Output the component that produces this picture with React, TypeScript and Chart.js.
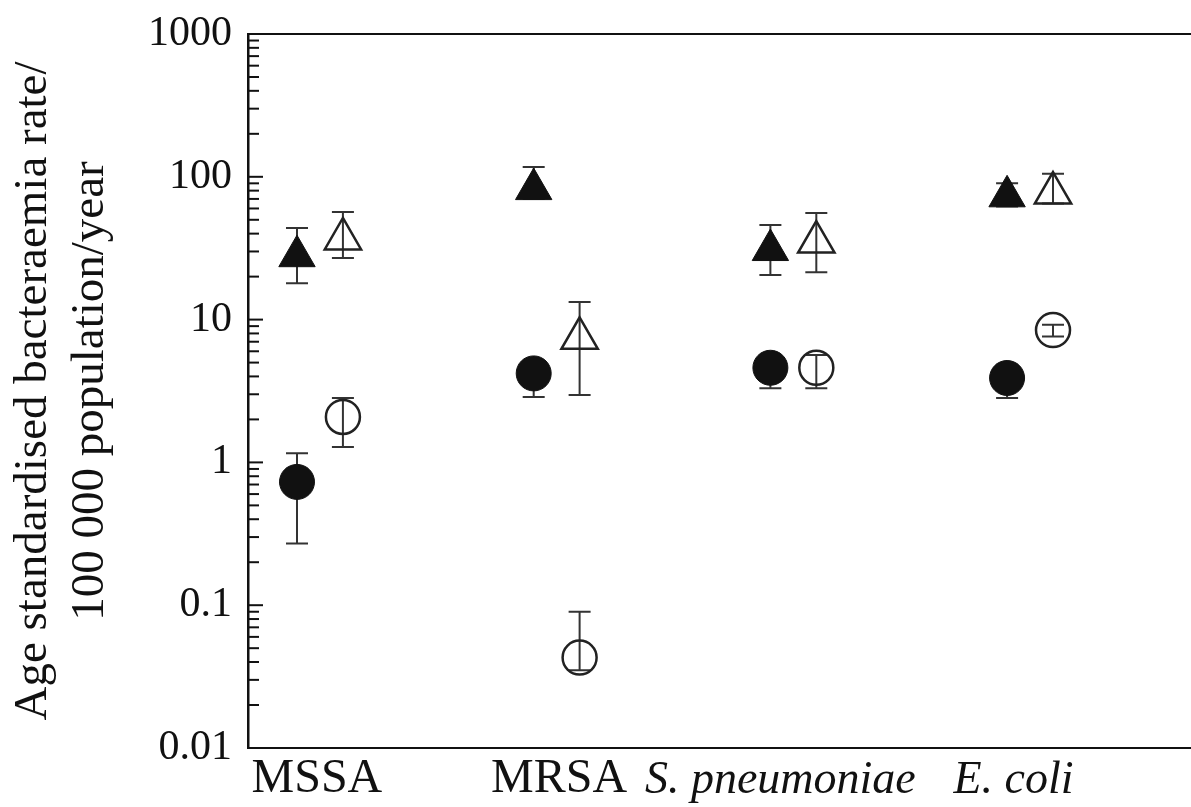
import React, { useEffect, useRef } from "react";
import { Chart, registerables } from "chart.js";

Chart.register(...registerables);

// ---- data ----
const categories = ["MSSA", "MRSA", "S. pneumoniae", "E. coli"];
const italicCategory = [false, false, true, true];

const filledTriangle = [27.8, 82, 30.7, 73];
const filledTriangleLo = [18.0, 70, 20.5, 62];
const filledTriangleHi = [43.8, 117, 45.9, 90];

const openTriangle = [36.7, 7.4, 34.9, 77];
const openTriangleLo = [27.0, 2.97, 21.5, 65];
const openTriangleHi = [56.7, 13.3, 55.8, 105];

const filledCircle = [0.73, 4.2, 4.6, 3.9];
const filledCircleLo = [0.27, 2.87, 3.3, 2.83];
const filledCircleHi = [1.16, 5.0, 5.5, 4.6];

const openCircle = [2.08, 0.043, 4.6, 8.45];
const openCircleLo = [1.28, 0.035, 3.3, 7.6];
const openCircleHi = [2.83, 0.09, 5.65, 9.2];

const yDecades = [0.01, 0.1, 1, 10, 100, 1000];
const yTickLabels = ["0.01", "0.1", "1", "10", "100", "1000"];
const yTitle = ["Age standardised bacteraemia rate/", "100 000 population/year"];

// ---- layout constants ----
const GROUP_OFFSET = 0.097;
const LABEL_SHIFT = [-0.013, 0.01, -0.055, -0.07];
const FONT = "'Liberation Serif', 'DejaVu Serif', serif";
const INK = "#111";

const mk = (vals: number[], lo: number[], hi: number[], side: number) =>
  vals.map((v, i) => ({ x: i + side * GROUP_OFFSET, y: v, lo: lo[i], hi: hi[i] }));

const errorBarsPlugin = {
  id: "errorBars",
  beforeDatasetsDraw(chart: any) {
    const { ctx, scales } = chart;
    const xs = scales.x;
    const ys = scales.y;
    ctx.save();
    ctx.strokeStyle = "#333";
    ctx.lineWidth = 2;
    chart.data.datasets.forEach((ds: any) => {
      ds.data.forEach((p: any) => {
        const x = xs.getPixelForValue(p.x);
        const yl = ys.getPixelForValue(p.lo);
        const yh = ys.getPixelForValue(p.hi);
        const cap = 11;
        ctx.beginPath();
        ctx.moveTo(x, yl);
        ctx.lineTo(x, yh);
        ctx.moveTo(x - cap, yl);
        ctx.lineTo(x + cap, yl);
        ctx.moveTo(x - cap, yh);
        ctx.lineTo(x + cap, yh);
        ctx.stroke();
      });
    });
    ctx.restore();
  },
};

const frameAndTicksPlugin = {
  id: "frameTicks",
  afterDraw(chart: any) {
    const { ctx, chartArea, scales } = chart;
    const ys = scales.y;
    ctx.save();
    ctx.strokeStyle = INK;
    // top border
    ctx.lineWidth = 2;
    ctx.beginPath();
    ctx.moveTo(chartArea.left, chartArea.top);
    ctx.lineTo(chartArea.right, chartArea.top);
    ctx.stroke();
    // inward ticks on y axis
    ctx.lineWidth = 2;
    ys.ticks.forEach((t: any) => {
      const y = ys.getPixelForValue(t.value);
      const lg = Math.log10(t.value);
      const major = Math.abs(lg - Math.round(lg)) < 1e-9;
      const len = major ? 15 : 11;
      ctx.beginPath();
      ctx.moveTo(chartArea.left, y);
      ctx.lineTo(chartArea.left + len, y);
      ctx.stroke();
    });
    ctx.restore();
  },
};

export default function App() {
  const ref = useRef<HTMLCanvasElement | null>(null);

  useEffect(() => {
    if (!ref.current) return;
    const chart = new Chart(ref.current, {
      type: "scatter",
      data: {
        datasets: [
          {
            label: "filled triangle",
            data: mk(filledTriangle, filledTriangleLo, filledTriangleHi, -1),
            pointStyle: "triangle",
            pointRadius: 21,
            backgroundColor: INK,
            borderColor: INK,
            borderWidth: 1,
          },
          {
            label: "open triangle",
            data: mk(openTriangle, openTriangleLo, openTriangleHi, 1),
            pointStyle: "triangle",
            pointRadius: 21,
            backgroundColor: "rgba(0,0,0,0)",
            borderColor: "#222",
            borderWidth: 2.5,
          },
          {
            label: "filled circle",
            data: mk(filledCircle, filledCircleLo, filledCircleHi, -1),
            pointStyle: "circle",
            pointRadius: 17.5,
            backgroundColor: INK,
            borderColor: INK,
            borderWidth: 1,
          },
          {
            label: "open circle",
            data: mk(openCircle, openCircleLo, openCircleHi, 1),
            pointStyle: "circle",
            pointRadius: 17,
            backgroundColor: "rgba(0,0,0,0)",
            borderColor: "#222",
            borderWidth: 2.5,
          },
        ],
      },
      options: {
        animation: false,
        responsive: false,
        events: [],
        layout: { autoPadding: false, padding: { top: 34, left: 0, right: 0, bottom: 0 } },
        plugins: { legend: { display: false }, tooltip: { enabled: false } },
        scales: {
          x: {
            type: "linear",
            min: -0.304,
            max: 3.68,
            grid: { display: false, drawTicks: false },
            border: { display: true, color: INK, width: 2 },
            afterBuildTicks: (scale: any) => {
              scale.ticks = categories.map((_, i) => ({ value: i + LABEL_SHIFT[i] }));
            },
            afterFit: (scale: any) => {
              scale.height = 59;
              scale.paddingLeft = 0;
              scale.paddingRight = 0;
            },
            ticks: {
              autoSkip: false,
              maxRotation: 0,
              padding: 3,
              color: INK,
              callback: (_v: any, i: number) => categories[i],
              font: (ctx: any) => ({
                family: FONT,
                size: italicCategory[ctx.index] ? 46 : 48,
                lineHeight: italicCategory[ctx.index] ? 1.28 : 1.2,
                style: italicCategory[ctx.index] ? "italic" : "normal",
              }),
            },
          },
          y: {
            type: "logarithmic",
            min: 0.01,
            max: 1000,
            grid: { display: false, drawTicks: false },
            border: { display: true, color: INK, width: 2.5 },
            afterBuildTicks: (scale: any) => {
              const t: any[] = [];
              for (let d = 0; d < yDecades.length - 1; d++) {
                for (let m = 1; m <= 9; m++) t.push({ value: +(m * yDecades[d]).toPrecision(6) });
              }
              t.push({ value: yDecades[yDecades.length - 1] });
              scale.ticks = t;
            },
            afterFit: (scale: any) => {
              scale.width = 248;
              scale.paddingTop = 0;
              scale.paddingBottom = 0;
            },
            ticks: {
              autoSkip: false,
              padding: 16,
              color: INK,
              font: { family: FONT, size: 42, lineHeight: 1.2 },
              callback: (v: any) => {
                const idx = yDecades.findIndex((d) => Math.abs(d - Number(v)) / d < 1e-6);
                return idx >= 0 ? yTickLabels[idx] : "";
              },
            },
            title: {
              display: true,
              text: yTitle,
              color: INK,
              padding: { top: 5, bottom: 0 },
              font: { family: FONT, size: 47, lineHeight: 1.21 },
            },
          },
        },
      },
      plugins: [errorBarsPlugin, frameAndTicksPlugin],
    } as any);
    return () => chart.destroy();
  }, []);

  return (
    <div style={{ position: "absolute", left: 0, top: 0, width: 1191, height: 807, background: "#fff" }}>
      <canvas ref={ref} width={1191} height={807} style={{ display: "block" }} />
    </div>
  );
}
